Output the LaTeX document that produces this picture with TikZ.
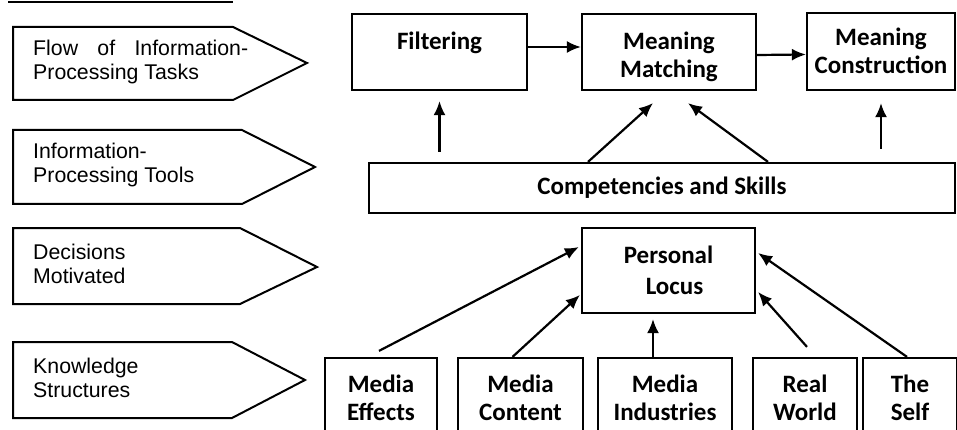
\documentclass[tikz,border=0pt]{standalone}
\usepackage{fontspec}
\setmainfont{Liberation Sans}
\newfontfamily\carl{Carlito}
\usetikzlibrary{arrows.meta,calc}
\begin{document}
\begin{tikzpicture}[x=1pt,y=-1pt,
  box/.style={draw, line width=2.2pt, inner sep=0pt},
  tag/.style={draw, line width=2pt, line join=miter},
  lefttxt/.style={font=\fontsize{21.3}{24.5}\selectfont, align=left, anchor=west, inner sep=0pt},
  boxtxt/.style={font=\carl\bfseries\fontsize{25}{28.5}\selectfont, align=center, inner sep=0pt},
  arr/.style={line width=2.2pt, -{Latex[length=14pt,width=12pt]}}]
\clip (0,0) rectangle (957,430);
\fill[white] (0,0) rectangle (957,430);

% cut-off heading underline
\draw[line width=2pt] (8,2) -- (233,2);

% left tags
\draw[tag] (13,27) -- (233,27) -- (307,63) -- (233,100) -- (13,100) -- cycle;
\draw[tag] (13,130) -- (242,130) -- (315,167) -- (242,204) -- (13,204) -- cycle;
\draw[tag] (13,228) -- (240,228) -- (317,267) -- (240,304) -- (13,304) -- cycle;
\draw[tag] (13,342) -- (232,342) -- (305,380) -- (232,418) -- (13,418) -- cycle;
\node[lefttxt] (t1) at (33,62) {\makebox[215pt][s]{Flow of Information-}\\Processing Tasks};
\node[lefttxt] (t2) at (33,165) {Information-\\Processing Tools};
\node[lefttxt] (t3) at (33,264) {Decisions\\Motivated};
\node[lefttxt] (t4) at (33,378) {Knowledge\\Structures};

% top row boxes
\node[box, minimum width=175pt, minimum height=76pt] (filt) at (439.5,52) {};
\node[boxtxt] (filtT) at (439.5,43) {Filtering};
\node[box, minimum width=174pt, minimum height=76pt] (mm) at (669,52) {};
\node[boxtxt] (mmT) at (669,57) {Meaning\\Matching};
\node[box, minimum width=148pt, minimum height=77pt] (mc) at (881,51.5) {};
\node[boxtxt] (mcT) at (881,51) {Meaning\\Construction};

% competencies
\node[box, minimum width=586pt, minimum height=50pt, boxtxt] (comp) at (662,188) {Competencies and Skills};

% personal locus
\node[box, minimum width=173pt, minimum height=85pt, boxtxt, font=\carl\bfseries\fontsize{25}{31.5}\selectfont] (pl) at (668.5,270.5) {Personal\\\hspace*{12pt}Locus};

% knowledge boxes
\node[box, minimum width=112pt, minimum height=80pt, boxtxt] (me) at (381,398) {Media\\Effects};
\node[box, minimum width=125pt, minimum height=80pt, boxtxt] (mcn) at (520.5,398) {Media\\Content};
\node[box, minimum width=134pt, minimum height=80pt, boxtxt] (mi) at (665,398) {Media\\Industries};
\node[box, minimum width=104pt, minimum height=80pt, boxtxt] (rw) at (805,398) {Real\\World};
\node[box, minimum width=94pt, minimum height=80pt, boxtxt] (ts) at (910,398) {The\\Self};

% flow arrows
\draw[arr] ([yshift=5pt]filt.east) -- ([yshift=5pt]mm.west);
\draw[arr] ([yshift=-3pt]mm.east) -- ([yshift=-3pt]mc.west);

% tools arrows
\draw[arr, shorten <=10pt, shorten >=10pt] (filt.south |- comp.north) -- (filt.south);
\draw[arr] ([xshift=-74pt]comp.north) -- ([xshift=-16pt,yshift=-12pt]mm.south);
\draw[arr] ([xshift=106pt]comp.north) -- ([xshift=19pt,yshift=-12pt]mm.south);
\draw[arr, shorten <=13pt, shorten >=12pt] (mc.south |- comp.north) -- (mc.south);

% knowledge arrows
\draw[arr] ([xshift=-2pt,yshift=6pt]me.north) -- ([xshift=-2pt,yshift=23.5pt]pl.west);
\draw[arr] ([xshift=-8pt]mcn.north) -- ([xshift=-1pt,yshift=-24.5pt]pl.west);
\draw[arr] ([xshift=-12pt]mi.north) -- ([xshift=-15.5pt,yshift=-5pt]pl.south);
\draw[arr] ([xshift=2pt,yshift=10pt]rw.north) -- ([xshift=2pt,yshift=-21.5pt]pl.east);
\draw[arr] ([xshift=-3pt]ts.north) -- ([xshift=2pt,yshift=17.5pt]pl.east);
\end{tikzpicture}
\end{document}
